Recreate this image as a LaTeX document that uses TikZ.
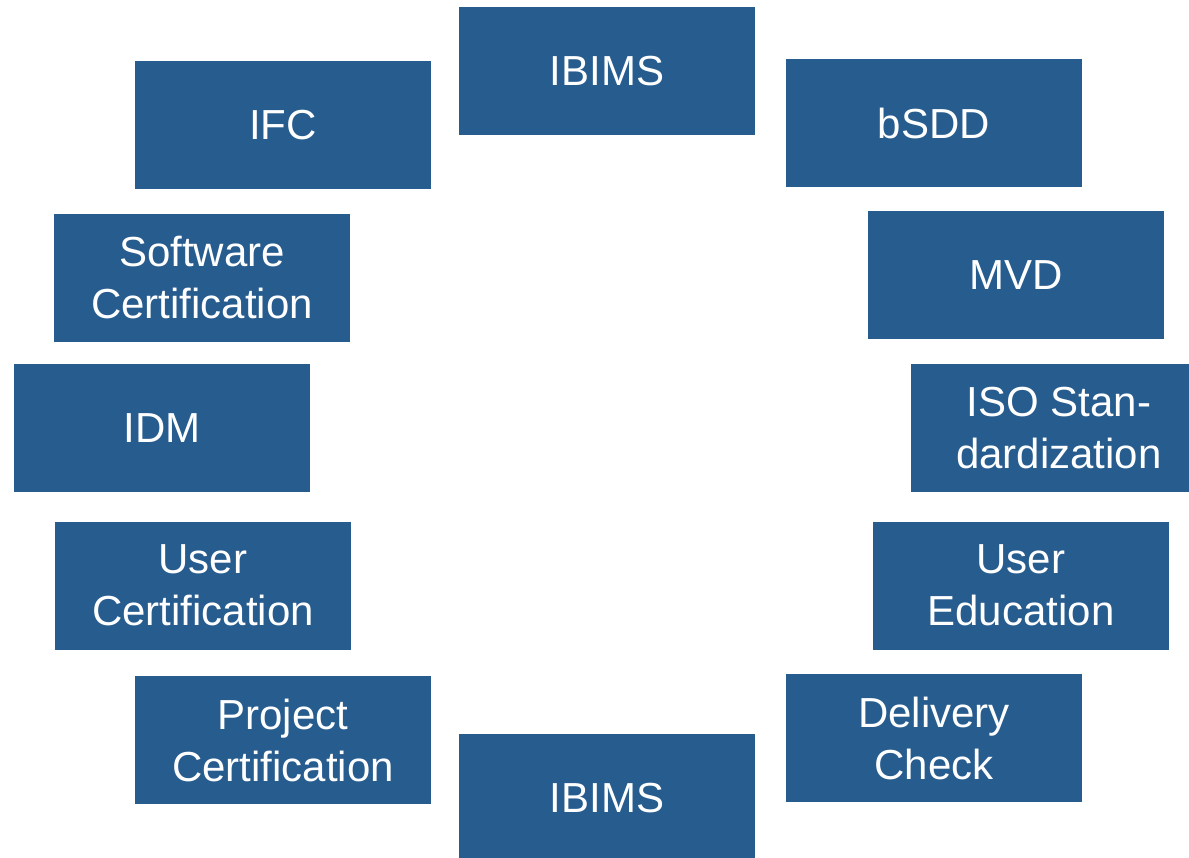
\documentclass[tikz,border=0pt]{standalone}
\usepackage{fontspec}
\setmainfont{Liberation Sans}
\definecolor{boxblue}{RGB}{39,92,143}
\begin{document}
\begin{tikzpicture}[x=1pt,y=-1pt,
	topic/.style={rectangle,fill=boxblue,text=white,align=center,inner sep=0pt,
		minimum width=296pt,minimum height=128pt,font=\fontsize{42}{52}\selectfont}]
		\useasboundingbox (0,0) rectangle (1189,858);
		\node[topic] (ibimsT) at (607,71) {IBIMS};
		\node[topic] (bsdd) at (934,123) {bSDD};
		\node[topic] (mvd) at (1016,275) {MVD};
		\node[topic] (iso) at (1059,428) {ISO Stan-\\dardization};
		\node[topic] (usered) at (1021,585.5) {User\\Education};
		\node[topic] (delivery) at (934,738) {Delivery\\Check};
		\node[topic] (ibimsB) at (607,798) {IBIMS};
		\node[topic] (projcert) at (283,740) {Project\\Certification};
		\node[topic] (usercert) at (203,585.5) {User\\Certification};
		\node[topic] (idm) at (162,428) {IDM};
		\node[topic] (softcert) at (202,278) {Software\\Certification};
		\node[topic] (ifc) at (283,125.5) {IFC};
\end{tikzpicture}
\end{document}
